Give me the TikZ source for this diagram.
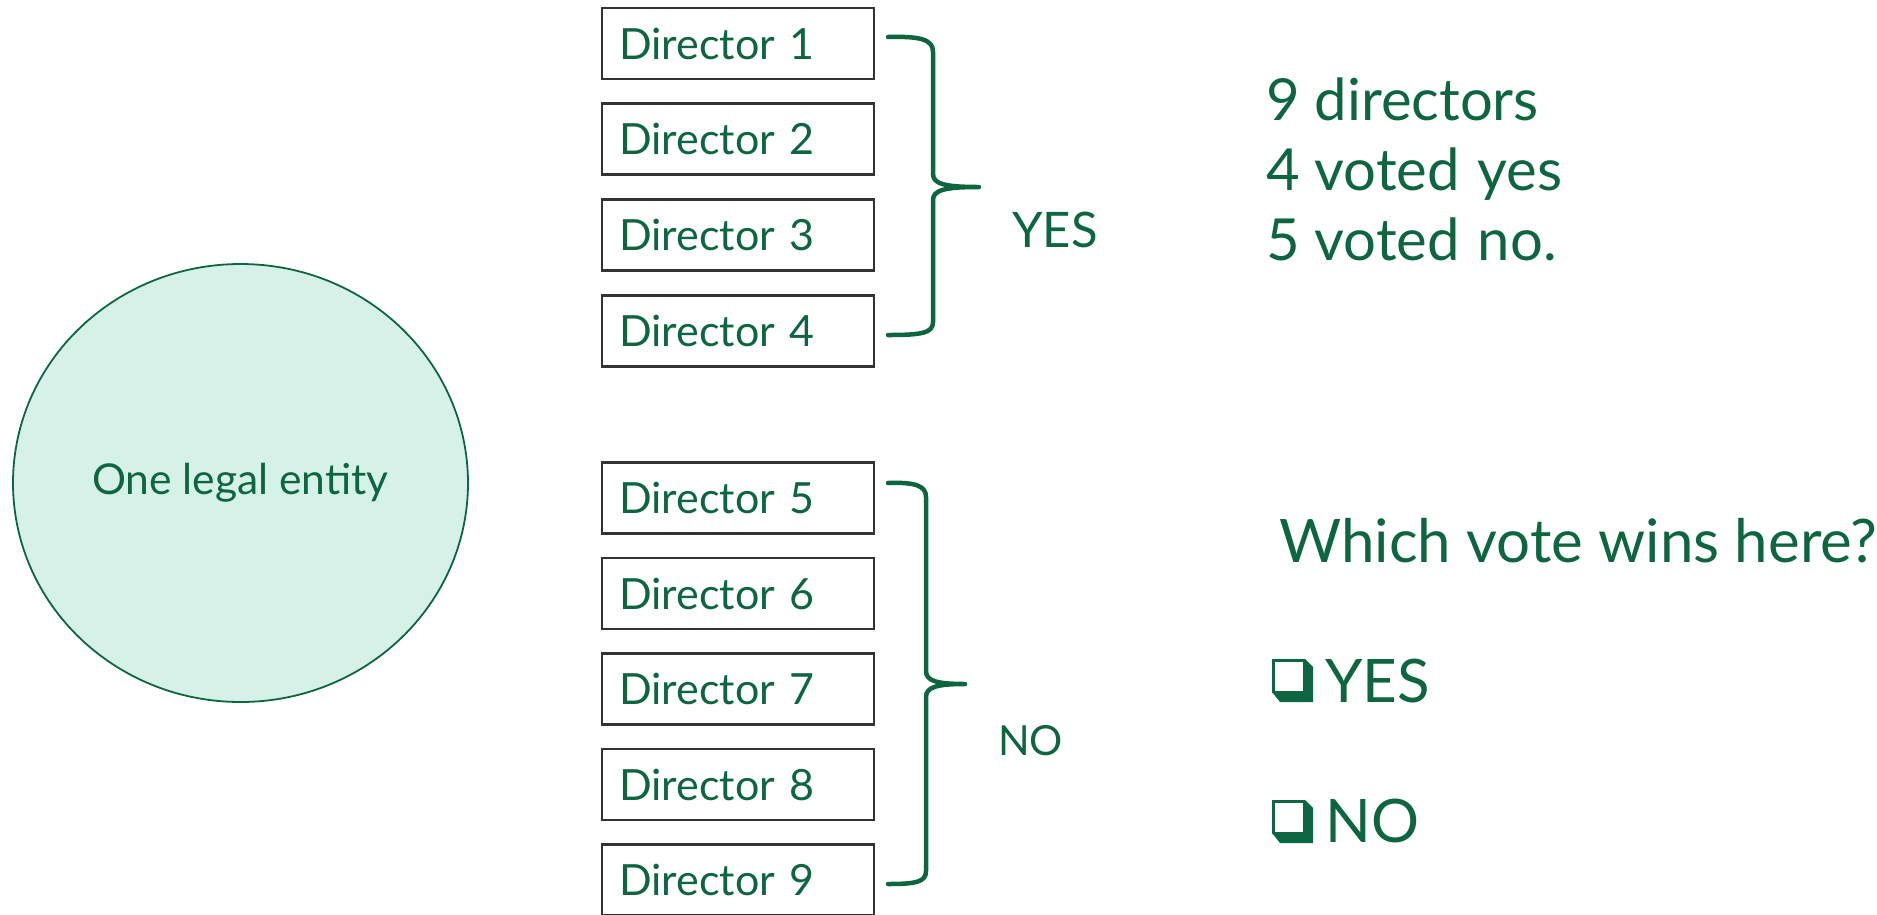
\documentclass[tikz,border=0pt]{standalone}
\usepackage{fontspec}
\setmainfont{Lato}
\usetikzlibrary{shapes.geometric,calc}
\definecolor{ink}{RGB}{14,102,64}
\definecolor{mint}{RGB}{214,241,231}
\definecolor{frame}{RGB}{51,51,51}

\begin{document}
\begin{tikzpicture}[x=1pt,y=-1pt,
  dirbox/.style={draw=frame, line width=2.5pt, fill=white,
    minimum width=272pt, minimum height=71pt, inner xsep=17pt,
    text width=238pt, align=left, text height=31pt, text depth=0pt,
    font=\fontsize{43}{51}\selectfont, text=ink, anchor=center},
  brace/.style={draw=ink, line width=4.5pt, line cap=round, line join=round},
  txt/.style={text=ink, inner sep=0pt, anchor=base west},
  entity/.style={ellipse, draw=ink, line width=1.8pt, fill=mint,
    minimum width=455pt, minimum height=438pt, text=ink,
    font=\fontsize{42.5}{50}\selectfont},
  pics/chkbox/.style={code={
    \fill[ink] (0,33) -- (33,33) -- (33,0) -- (41,8) -- (41,43) -- (8,43) -- cycle;
    \draw[ink, line width=2.6pt] (1.3,1.3) rectangle (32,33);
  }}
]
\useasboundingbox (0,0) rectangle (1877,914);
\clip (0,0) rectangle (1877,914);

% the company
\node[entity] (ent) at (240.5,483) {One legal entity};

% board members
\node[dirbox] (d1) at (738,43.5) {Director 1};
\node[dirbox] (d2) at (738,139) {Director 2};
\node[dirbox] (d3) at (738,235) {Director 3};
\node[dirbox] (d4) at (738,331) {Director 4};
\node[dirbox] (d5) at (738,498) {Director 5};
\node[dirbox] (d6) at (738,593.5) {Director 6};
\node[dirbox] (d7) at (738,689) {Director 7};
\node[dirbox] (d8) at (738,784.5) {Director 8};
\node[dirbox] (d9) at (738,880) {Director 9};

% brace over the yes votes
\coordinate (yt) at (888,37);
\coordinate (yb) at (888,335);
\coordinate (ym) at (979,187);
\draw[brace] (yt) .. controls (922,36) and (933,40) .. (933,52)
  -- (933,174) .. controls (933,184) and (945,187) .. (ym)
  (ym) .. controls (945,187) and (933,190) .. (933,200)
  -- (933,322) .. controls (933,333) and (922,335) .. (yb);
\node[txt, font=\fontsize{49}{58}\selectfont] (yes) at (1012,247) {YES};

% brace over the no votes
\coordinate (nt) at (888,483);
\coordinate (nb) at (888,884);
\coordinate (nm) at (965,684);
\draw[brace] (nt) .. controls (916,482) and (926,486) .. (926,497)
  -- (926,671) .. controls (926,681) and (937,684) .. (nm)
  (nm) .. controls (937,684) and (926,687) .. (926,697)
  -- (926,871) .. controls (926,882) and (916,884) .. (nb);
\node[txt, font=\fontsize{41.5}{49}\selectfont] (no) at (998,755) {NO};

% tally
\node[txt, font=\fontsize{58}{70}\selectfont] (t1) at (1266,120) {9 directors};
\node[txt, font=\fontsize{58}{70}\selectfont] (t2) at (1266,190) {4 voted\hspace{3pt} yes};
\node[txt, font=\fontsize{58}{70}\selectfont] (t3) at (1266,260) {5 voted\hspace{3pt} no.};

% question and choices
\node[txt, font=\fontsize{60}{72}\selectfont] (q) at (1279,562) {Which vote wins here?};
\pic at (1272,659) {chkbox};
\node[txt, font=\fontsize{60}{72}\selectfont] (ay) at (1325,702) {YES};
\pic at (1272,800) {chkbox};
\node[txt, font=\fontsize{60}{72}\selectfont] (an) at (1325,842) {NO};
\end{tikzpicture}
\end{document}
